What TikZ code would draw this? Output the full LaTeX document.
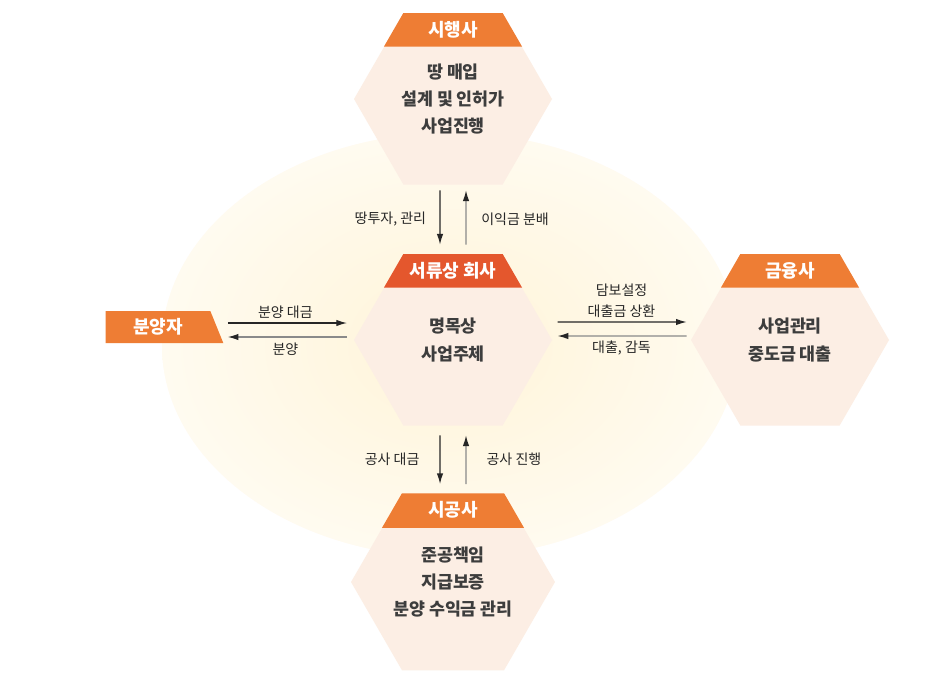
\documentclass[tikz,border=0pt]{standalone}
\usepackage{fontspec}
\setmainfont{Noto Sans CJK KR}
\usepackage{tikz}
\usetikzlibrary{arrows.meta,positioning,calc,shapes.geometric}
\definecolor{PFGlowCore}{HTML}{FFF4D8}
\definecolor{PFGlowEdge}{HTML}{FFFBF0}
\definecolor{PFHex}{HTML}{FCEEE4}
\definecolor{PFOrange}{HTML}{EE7D34}
\definecolor{PFRed}{HTML}{E4572D}
\definecolor{PFInk}{HTML}{262626}
\definecolor{PFText}{HTML}{3D3D3D}
\definecolor{PFSoft}{HTML}{8A8A8A}
\tikzset{
  flow/.style={-{Latex[length=8pt,width=4.8pt]},PFInk,line width=0.9pt},
  flowback/.style={-{Latex[length=8pt,width=4.8pt,color=PFInk]},draw=PFSoft,line width=0.9pt},
  hexbody/.style={regular polygon,regular polygon sides=6,minimum size=148.5pt,
                  fill=PFHex,text=PFText,inner sep=2pt,align=center,
                  font=\fontsize{13}{20.5}\selectfont\bfseries},
  headtext/.style={text=white,inner sep=0pt,font=\fontsize{13.5}{16}\selectfont\bfseries},
  tag/.style={trapezium,trapezium left angle=90,trapezium right angle=70,
              trapezium stretches=true,minimum width=88.5pt,minimum height=24pt,
              fill=PFOrange,inner sep=0pt,text=white,
              font=\fontsize{13.5}{16}\selectfont\bfseries},
  flowlabel/.style={text=PFInk,inner sep=1pt,align=center,
                    font=\fontsize{10.5}{15.5}\selectfont},
}
\newcommand{\hexunit}[6]{%
  \node[hexbody] (#1) at (#2,#3) {#6};
  \fill[#4] (#1.120) -- (#1.60) -- ($(#1.60)!.39!(#1.0)$)
    -- ($(#1.120)!.39!(#1.180)$) -- cycle;
  \node[headtext,yshift=-12.5pt] (#1-title) at ($(#1.120)!.5!(#1.60)$) {#5};%
}

\begin{document}
\begin{tikzpicture}[x=.75pt,y=-.75pt]
    \fill[white] (0,0) rectangle (948,675);
    \useasboundingbox (0,0) rectangle (948,675);
    % soft glow behind the scheme
    \fill[PFGlowEdge] (450,345) ellipse [x radius=288,y radius=212];
    \shade[inner color=PFGlowCore,outer color=PFGlowEdge]
      (450,345) ellipse [x radius=288,y radius=212];

    % the paper company and its partners
    \hexunit{dev}{453}{99}{PFOrange}{시행사}{땅 매입\\설계 및 인허가\\사업진행}
    \hexunit{spc}{453}{340}{PFRed}{서류상 회사}{명목상\\사업주체}
    \hexunit{bank}{790}{340}{PFOrange}{금융사}{사업관리\\중도금 대출}
    \hexunit{builder}{453}{582}{PFOrange}{시공사}{준공책임\\지급보증\\분양 수익금 관리}
    \node[tag] (buyer) at (158,327) {분양자};

    % developer <-> paper company
    \draw[flow,shorten <=4pt,shorten >=7pt] ([xshift=-9.75pt]dev.south) -- ([xshift=-9.75pt]spc.north)
      node[flowlabel,midway,left=9pt] {땅투자, 관리};
    \draw[flowback,shorten <=7pt,shorten >=4pt] ([xshift=9.75pt]spc.north) -- ([xshift=9.75pt]dev.south)
      node[flowlabel,midway,right=10pt] {이익금 분배};

    % paper company <-> builder
    \draw[flow,shorten <=7pt,shorten >=7pt] ([xshift=-9.75pt]spc.south) -- ([xshift=-9.75pt]builder.north)
      node[flowlabel,midway,left=14pt] {공사 대금};
    \draw[flowback,shorten <=7pt,shorten >=7pt] ([xshift=9.75pt]builder.north) -- ([xshift=9.75pt]spc.south)
      node[flowlabel,midway,right=14pt] {공사 진행};

    % buyer <-> paper company
    \draw[flow,shorten <=8pt,shorten >=5pt] ($(buyer.east |- spc.west)+(0,-17)$) -- ($(spc.west)+(0,-17)$)
      node[flowlabel,midway,above=2pt] {분양 대금};
    \draw[flowback,shorten <=5pt,shorten >=8pt] ($(spc.west)+(0,-3)$) -- ($(buyer.east |- spc.west)+(0,-3)$)
      node[flowlabel,midway,below=3pt] {분양};

    % paper company <-> bank
    \draw[flow,shorten <=4pt,shorten >=3pt] ($(spc.east)+(0,-18)$) -- ($(bank.west)+(0,-18)$)
      node[flowlabel,midway,above=2pt] {담보설정\\대출금 상환};
    \draw[flowback,shorten <=3pt,shorten >=4pt] ($(bank.west)+(0,-4)$) -- ($(spc.east)+(0,-4)$)
      node[flowlabel,midway,below=2pt] {대출, 감독};
\end{tikzpicture}
\end{document}
